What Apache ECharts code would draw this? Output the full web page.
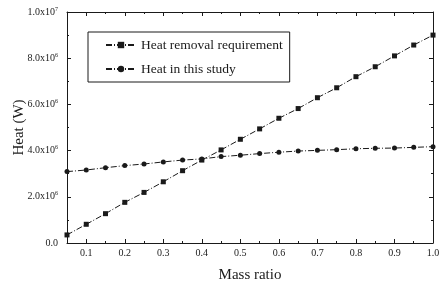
<!DOCTYPE html>
<html><head><meta charset="utf-8">
<script src="https://cdn.jsdelivr.net/npm/echarts@6/dist/echarts.min.js"></script>
<style>html,body{margin:0;padding:0;background:#fff}#c{width:443px;height:292px}</style>
</head><body><div id="c"></div>
<script>
var massRatio = [0.05,0.10,0.15,0.20,0.25,0.30,0.35,0.40,0.45,0.50,0.55,0.60,0.65,0.70,0.75,0.80,0.85,0.90,0.95,1.00];
var heatRemoval = [0.35e6,0.81e6,1.27e6,1.76e6,2.19e6,2.65e6,3.13e6,3.59e6,4.03e6,4.49e6,4.94e6,5.40e6,5.82e6,6.29e6,6.72e6,7.20e6,7.63e6,8.10e6,8.57e6,9.00e6];
var heatStudy = [3.09e6,3.16e6,3.26e6,3.35e6,3.42e6,3.51e6,3.59e6,3.64e6,3.74e6,3.80e6,3.87e6,3.93e6,3.98e6,4.01e6,4.04e6,4.08e6,4.10e6,4.11e6,4.14e6,4.17e6];
var xMajorTicks = [0.1,0.2,0.3,0.4,0.5,0.6,0.7,0.8,0.9,1.0];
var seriesNames = ['Heat removal requirement','Heat in this study'];

var FONT = '"Liberation Serif","DejaVu Serif",serif';
var INK = '#1a1a1a';
var pairs = function(ys){ return massRatio.map(function(x,i){ return [x, ys[i]]; }); };

function yLabel(v){
  if (v === 0) return '0.0';
  var e = Math.floor(Math.log10(v) + 1e-9);
  var m = v / Math.pow(10, e);
  return '{m|' + m.toFixed(1) + 'x10}{s|' + e + '}';
}

var baseX = {
  type:'value', min:0.05, max:1.0, gridIndex:0,
  axisLine:{show:true, lineStyle:{color:INK, width:1}},
  splitLine:{show:false}
};
var baseY = {
  type:'value', min:0, max:1e7, interval:2e6,
  axisLine:{show:true, lineStyle:{color:INK, width:1}},
  splitLine:{show:false},
  axisTick:{show:true, inside:true, length:4, lineStyle:{color:INK}},
  minorTick:{show:true, splitNumber:2, length:2, lineStyle:{color:INK}}
};

var option = {
  animation:false,
  backgroundColor:'#fff',
  grid:{left:67, right:10, top:12, bottom:49, containLabel:false, outerBoundsMode:'none'},
  legend:{
    orient:'vertical', left:88, top:32,
    padding:[6,7,6,17], itemGap:10, itemWidth:30, itemHeight:8,
    borderColor:INK, borderWidth:1,
    textStyle:{fontFamily:FONT, fontSize:13.5, color:INK},
    data:seriesNames
  },
  xAxis:[
    Object.assign({}, baseX, {
      position:'bottom',
      name:'Mass ratio', nameLocation:'middle', nameGap:25, nameMoveOverlap:false,
      nameTextStyle:{fontFamily:FONT, fontSize:15, color:INK},
      axisTick:{show:true, inside:true, length:4, customValues:xMajorTicks, lineStyle:{color:INK}},
      axisLabel:{show:true, customValues:xMajorTicks, margin:5, fontFamily:FONT, fontSize:10, color:INK,
        formatter:function(v){ return v.toFixed(1); }}
    }),
    Object.assign({}, baseX, {
      position:'bottom', interval:0.05,
      axisLine:{show:false},
      axisTick:{show:true, inside:true, length:2, lineStyle:{color:INK}},
      axisLabel:{show:false}
    }),
    Object.assign({}, baseX, {
      position:'top',
      axisTick:{show:true, inside:true, length:4, customValues:xMajorTicks, lineStyle:{color:INK}},
      axisLabel:{show:false}
    }),
    Object.assign({}, baseX, {
      position:'top', interval:0.05,
      axisLine:{show:false},
      axisTick:{show:true, inside:true, length:2, lineStyle:{color:INK}},
      axisLabel:{show:false}
    })
  ],
  yAxis:[
    Object.assign({}, baseY, {
      position:'left',
      name:'Heat (W)', nameLocation:'middle', nameGap:40, nameRotate:90, nameMoveOverlap:false,
      nameTextStyle:{fontFamily:FONT, fontSize:15, color:INK},
      axisLabel:{show:true, margin:9, fontFamily:FONT, fontSize:10, color:INK,
        formatter:yLabel,
        rich:{m:{fontFamily:FONT, fontSize:10, color:INK},
              s:{fontFamily:FONT, fontSize:6, color:INK, verticalAlign:'top', padding:[0,0,6,0]}}}
    }),
    Object.assign({}, baseY, {
      position:'right',
      axisLabel:{show:false}
    })
  ],
  series:[
    {
      name:seriesNames[0], type:'line', xAxisIndex:0, yAxisIndex:0,
      data:pairs(heatRemoval),
      symbol:'rect', symbolSize:5,
      itemStyle:{color:INK},
      lineStyle:{color:INK, width:1, type:[6,2,1,2]}
    },
    {
      name:seriesNames[1], type:'line', xAxisIndex:0, yAxisIndex:0,
      data:pairs(heatStudy),
      symbol:'circle', symbolSize:5,
      itemStyle:{color:INK},
      lineStyle:{color:INK, width:1, type:[6,2,1,2]}
    }
  ]
};
var chart = echarts.init(document.getElementById('c'), null, {renderer:'canvas'});
chart.setOption(option);
</script></body></html>
